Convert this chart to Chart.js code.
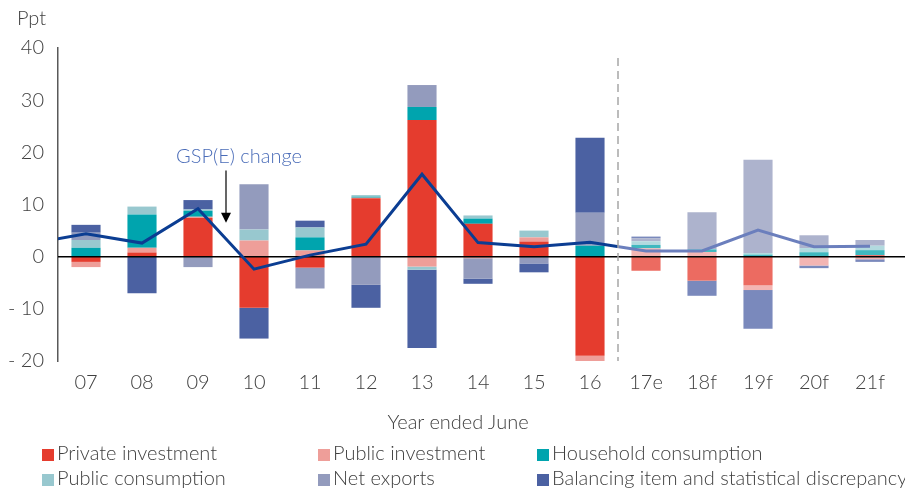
<!DOCTYPE html>
<html>
<head>
<meta charset="utf-8">
<script src="https://cdn.jsdelivr.net/npm/chart.js@4.4.1/dist/chart.umd.min.js"></script>
<style>
    html, body { margin: 0; padding: 0; background: #fff; }
    #wrap { position: relative; width: 905px; height: 492px; font-family: 'Lato', sans-serif; font-weight: 300; color: #404040; }
    #chart { position: absolute; left: 0; top: 0; }
    .xtitle { position: absolute; left: 0; width: 916px; top: 409px; text-align: center; font-size: 20px; line-height: 24px; }
    .legend { position: absolute; font-size: 20px; line-height: 24px; white-space: nowrap; }
    .legend i { display: inline-block; width: 12px; height: 12px; margin-right: 3px; vertical-align: -1px; }
</style>
</head>
<body>
<div id="wrap">
    <canvas id="chart" width="905" height="492"></canvas>
    <div class="xtitle">Year ended June</div>
    <div id="legend"></div>
</div>
<script>
// '06' is only there so the GSP line runs in from the axis; the x scale starts at '07'
const years = ['06', '07', '08', '09', '10', '11', '12', '13', '14', '15', '16', '17e', '18f', '19f', '20f', '21f'];

const privateInvestment   = [null, -1.0, 0.8, 7.4, -9.8, -2.1, 11.2, 26.2, 6.3, 2.9, -19.0, -2.7, -4.6, -5.5, 0, 0.3];
const publicInvestment    = [null, -1.0, 0.9, 0.25, 3.1, 1.2, 0.1, -1.9, -0.3, 0.8, -1.2, 1.6, 0.9, -0.9, -1.7, -0.5];
const householdConsumption = [null, 1.7, 6.4, 1.15, 0, 2.5, 0.2, 2.5, 1.0, 0, 2.1, 0.65, 0.5, 0.4, 0.85, 0.95];
const publicConsumption   = [null, 1.5, 1.5, 0.25, 2.1, 1.9, 0.3, -0.6, 0.6, 1.3, 0, 0.7, 0, 0.3, 0.8, 0.85];
const netExports          = [null, 1.4, 0, -2.0, 8.7, -4.0, -5.4, 4.2, -3.9, -1.3, 6.3, 0.6, 7.1, 17.9, 2.45, 1.1];
const balancingItem       = [null, 1.5, -7.0, 1.8, -5.9, 1.3, -4.4, -15.0, -1.0, -1.7, 14.4, 0.3, -2.9, -7.4, -0.5, -0.5];
const gspChange           = [2.5, 4.4, 2.6, 9.2, -2.4, 0.3, 2.4, 15.8, 2.7, 1.9, 2.75, 1.1, 1.1, 5.1, 1.9, 2.0];

const yTicks = [-20, -10, 0, 10, 20, 30, 40];

const series = [
    { label: 'Private investment', data: privateInvestment, color: '#e53c2e', light: '#ec6b61' },
    { label: 'Public investment', data: publicInvestment, color: '#ee9e99', light: '#f3b5b3' },
    { label: 'Household consumption', data: householdConsumption, color: '#00a4ae', light: '#40b8bf' },
    { label: 'Public consumption', data: publicConsumption, color: '#98c8cf', light: '#b2dadf' },
    { label: 'Net exports', data: netExports, color: '#939bbd', light: '#adb3cd' },
    { label: 'Balancing item and statistical discrepancy', data: balancingItem, color: '#4b61a2', light: '#7a89bc' }
];

const isForecast = (label) => /[ef]$/.test(label);
const FONT = { family: 'Lato', weight: 300, size: 20 };

// dark line for actuals, lighter once the forecasts start
function lineColor(ctx) {
    const chart = ctx.chart;
    const area = chart.chartArea;
    const xs = chart.scales.x;
    if (!area || !xs) return '#0b3d92';
    const split = (xs.getPixelForValue(10) + xs.getPixelForValue(11)) / 2;
    const f = Math.min(Math.max((split - area.left) / (area.right - area.left), 0), 1);
    const g = chart.ctx.createLinearGradient(area.left, 0, area.right, 0);
    g.addColorStop(0, '#0b3d92');
    g.addColorStop(f, '#0b3d92');
    g.addColorStop(f, '#6b7fbd');
    g.addColorStop(1, '#6b7fbd');
    return g;
}

const extras = {
    id: 'extras',
    beforeDatasetDraw(chart, args) {
        if (args.meta.type !== 'line') return;
        const { ctx, chartArea } = chart;
        const y0 = chart.scales.y.getPixelForValue(0);
        ctx.save();
        ctx.strokeStyle = '#000';
        ctx.lineWidth = 1.5;
        ctx.beginPath();
        ctx.moveTo(chartArea.left, y0);
        ctx.lineTo(chartArea.right + 7, y0);
        ctx.stroke();
        ctx.restore();
    },
    afterDraw(chart) {
        const { ctx, chartArea } = chart;
        const xs = chart.scales.x, ys = chart.scales.y;
        ctx.save();

        // actual / forecast divider
        const xd = (xs.getPixelForValue(10) + xs.getPixelForValue(11)) / 2;
        ctx.strokeStyle = '#a6a6a6';
        ctx.lineWidth = 1.5;
        ctx.setLineDash([8, 5]);
        ctx.beginPath();
        ctx.moveTo(xd, chartArea.top + 10);
        ctx.lineTo(xd, chartArea.bottom);
        ctx.stroke();
        ctx.setLineDash([]);

        // GSP(E) change label and arrow
        const xa = (xs.getPixelForValue(3) + xs.getPixelForValue(4)) / 2;
        ctx.font = '300 20px Lato';
        ctx.fillStyle = '#4a6cb8';
        ctx.textAlign = 'center';
        ctx.textBaseline = 'middle';
        ctx.fillText('GSP(E) change', xa + 13, ys.getPixelForValue(19.2));
        const yTop = ys.getPixelForValue(16.5), yTip = ys.getPixelForValue(6.5);
        ctx.strokeStyle = '#000';
        ctx.fillStyle = '#000';
        ctx.lineWidth = 1.2;
        ctx.beginPath();
        ctx.moveTo(xa, yTop);
        ctx.lineTo(xa, yTip - 6);
        ctx.stroke();
        ctx.beginPath();
        ctx.moveTo(xa - 5, yTip - 10);
        ctx.lineTo(xa + 5, yTip - 10);
        ctx.lineTo(xa, yTip);
        ctx.closePath();
        ctx.fill();

        // unit label
        ctx.fillStyle = '#404040';
        ctx.textAlign = 'left';
        ctx.fillText('Ppt', 17, 19);
        ctx.restore();
    }
};

const barSets = series.map((s) => ({
    type: 'bar',
    label: s.label,
    data: s.data,
    stack: 'parts',
    order: 1,
    backgroundColor: years.map(y => isForecast(y) ? s.light : s.color),
    borderWidth: 0,
    barPercentage: 0.52,
    categoryPercentage: 1
}));

new Chart(document.getElementById('chart'), {
    data: {
        labels: years,
        datasets: [
            ...barSets,
            {
                type: 'line',
                label: 'GSP(E) change',
                data: gspChange,
                order: 0,
                borderColor: lineColor,
                borderWidth: 3,
                pointRadius: 0,
                tension: 0,
                fill: false
            }
        ]
    },
    options: {
        responsive: false,
        animation: false,
        devicePixelRatio: 1,
        layout: { padding: { top: 48, right: 7, bottom: 87, left: 0 } },
        plugins: { legend: { display: false }, tooltip: { enabled: false } },
        scales: {
            x: {
                stacked: true,
                min: '07',
                grid: { display: false, drawTicks: false },
                border: { display: false },
                ticks: { color: '#404040', font: FONT, padding: 10, maxRotation: 0, autoSkip: false }
            },
            y: {
                stacked: true,
                min: -20,
                max: 40,
                afterFit: (scale) => { scale.width = 58; },
                afterBuildTicks: (scale) => { scale.ticks = yTicks.map(v => ({ value: v })); },
                grid: { display: false, drawTicks: false },
                border: { display: true, color: '#595959', width: 1.5 },
                ticks: {
                    color: '#404040',
                    font: FONT,
                    padding: 14,
                    callback: (v) => v < 0 ? '- ' + Math.abs(v) : String(v)
                }
            }
        }
    },
    plugins: [extras]
});

// legend in three fixed columns, as in the source figure
const legendCols = [42, 318, 537];
const legendRows = [440, 465];
const legendEl = document.getElementById('legend');
series.forEach((s, i) => {
    const item = document.createElement('div');
    item.className = 'legend';
    item.style.left = legendCols[i % 3] + 'px';
    item.style.top = legendRows[Math.floor(i / 3)] + 'px';
    item.innerHTML = `<i style="background:${s.color}"></i>${s.label}`;
    legendEl.appendChild(item);
});
</script>
</body>
</html>
